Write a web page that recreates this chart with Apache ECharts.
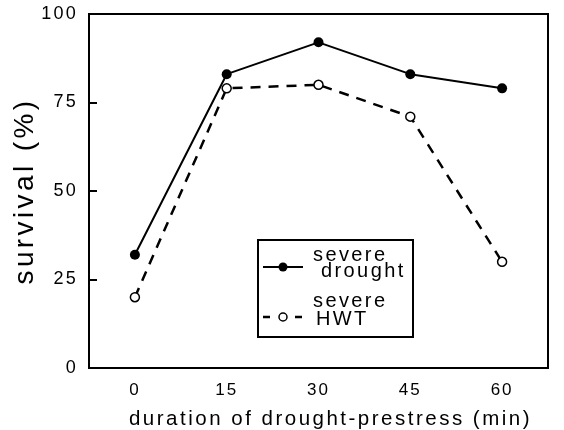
<!DOCTYPE html>
<html>
<head>
<meta charset="utf-8">
<script src="https://cdn.jsdelivr.net/npm/echarts@6/dist/echarts.min.js"></script>
<style>
  html, body { margin: 0; padding: 0; background: #fff; }
  #chart { width: 564px; height: 430px; }
</style>
</head>
<body>
<div id="chart"></div>
<script>
// data
var durations = ['0', '15', '30', '45', '60'];
var droughtSurvival = [32, 83, 92, 83, 79];
var hwtSurvival = [20, 79, 80, 71, 30];
var yTicks = [0, 25, 50, 75, 100];

// the original uses widely tracked text; canvas letterSpacing follows the font size
(function () {
    var proto = CanvasRenderingContext2D.prototype;
    var desc = Object.getOwnPropertyDescriptor(proto, 'font');
    if (!desc || !('letterSpacing' in proto)) return;
    Object.defineProperty(proto, 'font', {
        configurable: true,
        get: desc.get,
        set: function (v) {
            desc.set.call(this, v);
            var m = /(\d+(\.\d+)?)px/.exec(v);
            var size = m ? parseFloat(m[1]) : 12;
            this.letterSpacing = (size * 0.12).toFixed(1) + 'px';
        }
    });
})();

var font = 'Liberation Sans, Arial, sans-serif';
var chart = echarts.init(document.getElementById('chart'));

var legendText = { fontFamily: font, fontSize: 20, fill: '#000' };

chart.setOption({
    animation: false,
    backgroundColor: '#fff',
    grid: {
        left: 89,
        right: 16,
        top: 14,
        bottom: 62,
        containLabel: false,
        outerBoundsMode: 'none',
        show: true,
        borderColor: '#000',
        borderWidth: 2
    },
    // legend box drawn by hand to get the two-line labels like the original
    graphic: [
        { type: 'rect', shape: { x: 258, y: 240, width: 155, height: 97 },
          style: { fill: '#fff', stroke: '#000', lineWidth: 2 }, z: 10 },
        { type: 'line', shape: { x1: 263, y1: 267, x2: 303, y2: 267 },
          style: { stroke: '#000', lineWidth: 2 }, z: 11 },
        { type: 'circle', shape: { cx: 283, cy: 267, r: 4.5 },
          style: { fill: '#000' }, z: 11 },
        { type: 'text', x: 313, y: 267, style: Object.assign({ text: 'severe', textVerticalAlign: 'bottom' }, legendText), z: 11 },
        { type: 'text', x: 321, y: 283, style: Object.assign({ text: 'drought', textVerticalAlign: 'bottom' }, legendText), z: 11 },
        { type: 'line', shape: { x1: 263, y1: 317, x2: 303, y2: 317 },
          style: { stroke: '#000', lineWidth: 2.5, lineDash: [7, 9] }, z: 11 },
        { type: 'circle', shape: { cx: 283, cy: 317, r: 4 },
          style: { fill: '#fff', stroke: '#000', lineWidth: 1.5 }, z: 12 },
        { type: 'text', x: 313, y: 313, style: Object.assign({ text: 'severe', textVerticalAlign: 'bottom' }, legendText), z: 11 },
        { type: 'text', x: 316, y: 331, style: Object.assign({ text: 'HWT', textVerticalAlign: 'bottom' }, legendText), z: 11 }
    ],
    xAxis: {
        type: 'category',
        data: durations,
        boundaryGap: true,
        name: 'duration of drought-prestress (min)',
        nameLocation: 'middle',
        nameGap: 40,
        nameMoveOverlap: false,
        nameTextStyle: { fontFamily: font, fontSize: 20.5, color: '#000', padding: [0, 0, 0, 24] },
        axisLine: { lineStyle: { color: '#000', width: 2 } },
        axisTick: { inside: true, alignWithLabel: true, length: 7, lineStyle: { color: '#000', width: 2 } },
        axisLabel: { fontFamily: font, fontSize: 17, color: '#000', margin: 13 },
        splitLine: { show: false }
    },
    yAxis: {
        type: 'value',
        min: 0,
        max: 100,
        interval: 25,
        name: 'survival (%)',
        nameLocation: 'middle',
        nameGap: 48,
        nameMoveOverlap: false,
        nameTextStyle: { fontFamily: font, fontSize: 28, color: '#000' },
        axisLine: { show: true, lineStyle: { color: '#000', width: 2 } },
        axisTick: { show: true, inside: true, length: 8, lineStyle: { color: '#000', width: 2 } },
        axisLabel: {
            fontFamily: font, fontSize: 18, color: '#000', margin: 11,
            formatter: function (v) { return yTicks.indexOf(v) >= 0 ? String(v) : ''; }
        },
        splitLine: { show: false }
    },
    series: [
        {
            name: 'drought',
            type: 'line',
            data: droughtSurvival,
            symbol: 'circle',
            symbolSize: 10,
            itemStyle: { color: '#000' },
            lineStyle: { color: '#000', width: 2 },
            z: 3
        },
        {
            name: 'HWT',
            type: 'line',
            data: hwtSurvival,
            symbol: 'circle',
            symbolSize: 9,
            itemStyle: { color: '#fff', borderColor: '#000', borderWidth: 1.5 },
            lineStyle: { color: '#000', width: 2.5, type: [10, 8] },
            z: 2
        }
    ]
});
</script>
</body>
</html>
